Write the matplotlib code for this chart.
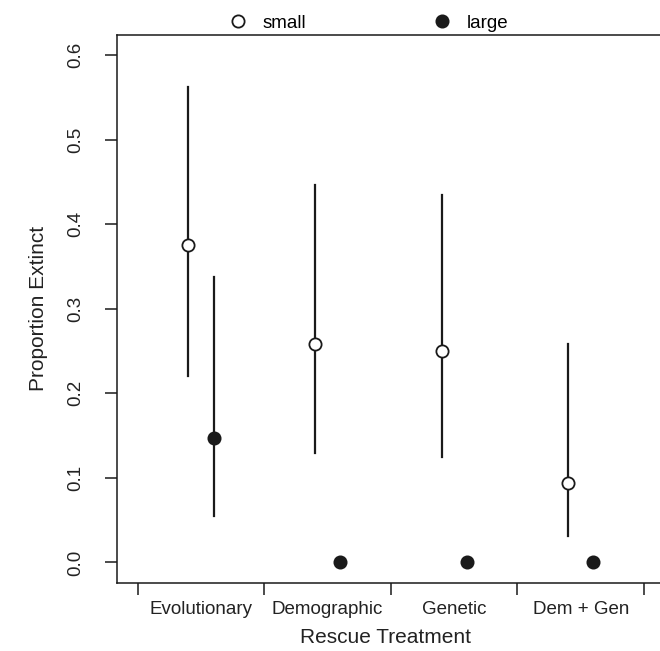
import matplotlib
matplotlib.use("Agg")
import matplotlib.pyplot as plt
from matplotlib.lines import Line2D
import numpy as np

plt.rcParams['font.family'] = ['Liberation Sans', 'DejaVu Sans']

categories = ["Evolutionary", "Demographic", "Genetic", "Dem + Gen"]
small_mean = [0.375, 0.258, 0.250, 0.094]
small_low = [0.220, 0.130, 0.125, 0.031]
small_high = [0.562, 0.446, 0.435, 0.258]
large_mean = [0.147, 0.0, 0.0, 0.0]
large_low = [0.055, np.nan, np.nan, np.nan]
large_high = [0.338, np.nan, np.nan, np.nan]
yticks = [0.0, 0.1, 0.2, 0.3, 0.4, 0.5, 0.6]

fig = plt.figure(figsize=(6.6, 6.51), dpi=100)
ax = fig.add_axes([117.3/660, 1-582.7/651, (664.4-117.3)/660, (582.7-35)/651])

pos = np.arange(1, len(categories)+1)
off = 0.1
lw = 1.6
col = '#1a1a1a'
for i, p in enumerate(pos):
    ax.plot([p-off, p-off], [small_low[i], small_high[i]], color=col, lw=lw, zorder=2)
    if not np.isnan(large_low[i]):
        ax.plot([p+off, p+off], [large_low[i], large_high[i]], color=col, lw=lw, zorder=2)

ax.plot(pos-off, small_mean, 'o', ms=8.8, mfc='white', mec=col, mew=1.3, ls='none', zorder=3)
ax.plot(pos+off, large_mean, 'o', ms=8.8, mfc=col, mec=col, mew=1.3, ls='none', zorder=3)

ax.set_xlim(0.34, 4.66)
ax.set_ylim(-0.024, 0.624)
ax.spines['right'].set_visible(False)
for s in ['left', 'bottom', 'top']:
    ax.spines[s].set_linewidth(1.1)
    ax.spines[s].set_color(col)

ax.set_yticks(yticks)
ax.set_yticklabels([f"{v:.1f}" for v in yticks], rotation=90, va='center', fontsize=13.5, color='#222222')
ax.set_xticks(np.arange(0.5, len(categories)+1, 1.0))
ax.set_xticklabels([])
ax.set_xticks(pos, minor=True)
ax.set_xticklabels(categories, minor=True, fontsize=13.5, color='#222222')
ax.tick_params(axis='x', which='minor', length=0, pad=13)
ax.tick_params(axis='both', which='major', length=8.9, width=1.1, color=col)
ax.tick_params(axis='y', pad=14.6)

ax.set_xlabel("Rescue Treatment", fontsize=15, color='#222222')
ax.xaxis.set_label_coords(0.49, -0.082)
ax.set_ylabel("Proportion Extinct", fontsize=15, color='#222222', labelpad=13.8)

handles = [Line2D([], [], marker='o', ls='none', ms=8.8, mfc='white', mec=col, mew=1.3),
           Line2D([], [], marker='o', ls='none', ms=8.8, mfc=col, mec=col, mew=1.3)]
fig.legend(handles, ["small", "large"], ncol=2, loc='center', bbox_to_anchor=(0.5578, 1-23/651),
           frameon=False, fontsize=13.5, handlelength=1.0, handletextpad=0.8, columnspacing=6.77,
           borderpad=0, borderaxespad=0)

fig.savefig("out.png", dpi=100)
